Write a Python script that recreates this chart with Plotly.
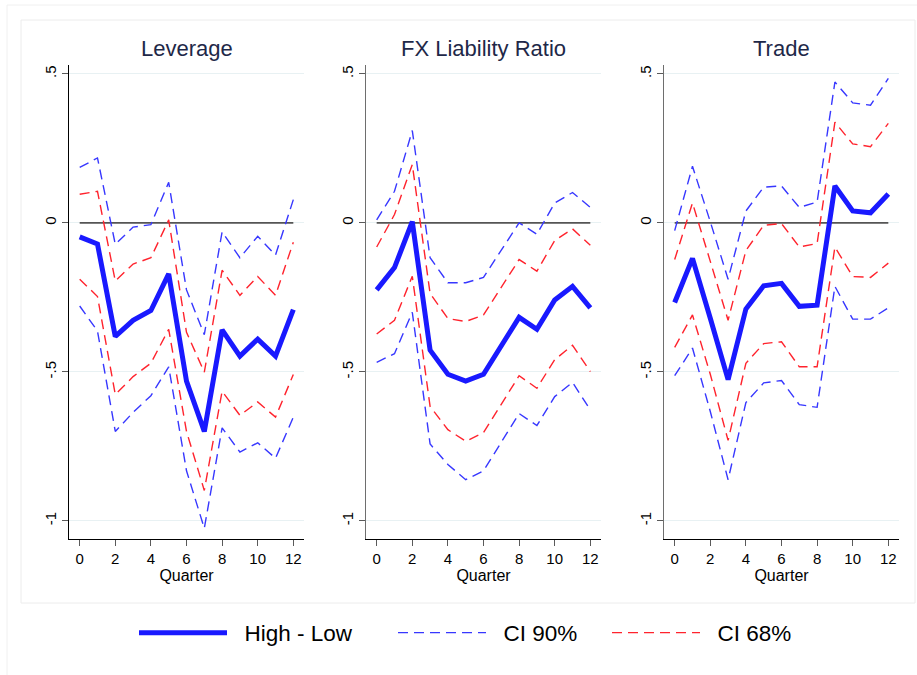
import plotly.graph_objects as go

# Horizon (quarters after the shock)
quarters = list(range(13))

panel_titles = ["Leverage", "FX Liability Ratio", "Trade"]

# ---- Leverage ----
lev_est = [-0.047, -0.071, -0.381, -0.327, -0.294, -0.171, -0.531, -0.700, -0.359, -0.447, -0.390, -0.447, -0.291]
lev_hi90 = [0.186, 0.218, -0.072, -0.014, -0.006, 0.136, -0.225, -0.375, -0.030, -0.117, -0.045, -0.108, 0.078]
lev_lo90 = [-0.279, -0.363, -0.700, -0.636, -0.580, -0.483, -0.832, -1.025, -0.688, -0.769, -0.738, -0.790, -0.652]
lev_hi68 = [0.096, 0.106, -0.195, -0.138, -0.117, 0.010, -0.367, -0.501, -0.159, -0.243, -0.180, -0.243, -0.065]
lev_lo68 = [-0.189, -0.247, -0.576, -0.516, -0.471, -0.357, -0.700, -0.898, -0.565, -0.646, -0.601, -0.652, -0.509]

# ---- FX Liability Ratio ----
fx_est = [-0.225, -0.150, 0.004, -0.427, -0.508, -0.531, -0.508, -0.415, -0.317, -0.357, -0.259, -0.213, -0.285]
fx_hi90 = [0.010, 0.106, 0.310, -0.117, -0.201, -0.201, -0.183, -0.093, 0.000, -0.038, 0.067, 0.102, 0.052]
fx_lo90 = [-0.468, -0.439, -0.300, -0.742, -0.811, -0.862, -0.832, -0.736, -0.640, -0.680, -0.583, -0.535, -0.628]
fx_hi68 = [-0.081, 0.028, 0.196, -0.237, -0.321, -0.331, -0.309, -0.215, -0.123, -0.162, -0.059, -0.020, -0.075]
fx_lo68 = [-0.373, -0.327, -0.179, -0.616, -0.694, -0.733, -0.704, -0.610, -0.513, -0.555, -0.459, -0.411, -0.499]

# ---- Trade ----
tr_est = [-0.267, -0.119, -0.320, -0.526, -0.289, -0.211, -0.203, -0.280, -0.276, 0.124, 0.040, 0.034, 0.097]
tr_hi90 = [-0.026, 0.190, 0.004, -0.189, 0.040, 0.120, 0.124, 0.052, 0.070, 0.473, 0.403, 0.395, 0.485]
tr_lo90 = [-0.513, -0.420, -0.633, -0.862, -0.603, -0.537, -0.529, -0.610, -0.619, -0.213, -0.323, -0.323, -0.285]
tr_hi68 = [-0.123, 0.067, -0.129, -0.327, -0.093, -0.008, -0.002, -0.081, -0.069, 0.338, 0.265, 0.256, 0.334]
tr_lo68 = [-0.418, -0.309, -0.508, -0.730, -0.471, -0.405, -0.399, -0.483, -0.483, -0.081, -0.180, -0.183, -0.135]

panels = [
    (lev_est, lev_hi90, lev_lo90, lev_hi68, lev_lo68),
    (fx_est, fx_hi90, fx_lo90, fx_hi68, fx_lo68),
    (tr_est, tr_hi90, tr_lo90, tr_hi68, tr_lo68),
]

series_names = ["High - Low", "CI 90%", "CI 68%"]

y_tickvals = [-1, -0.5, 0, 0.5]
y_ticktext = ["-1", "-.5", "0", ".5"]
x_tickvals = [0, 2, 4, 6, 8, 10, 12]

W, H = 917, 675
FONT = "Liberation Sans, Arial, Helvetica, sans-serif"

MAIN_BLUE = "rgb(25,25,255)"
CI90_BLUE = "rgb(55,55,255)"
CI68_RED = "rgb(255,35,45)"
DASH = "10px,6px"
GAP = "\u00a0\u00a0"  # spacing between legend key and its label

# panel extents in pixels (left, right); shared vertical extent
panel_px = [(69, 304), (366, 601), (664, 899)]
top_px, bottom_px = 65, 539
# left edge (px) of each legend key
legend_left_px = [140, 399, 613]

fig = go.Figure()

for i, (est, hi90, lo90, hi68, lo68) in enumerate(panels):
    n = "" if i == 0 else str(i + 1)
    xa, ya = "x" + n, "y" + n
    first = i == 0

    # reference line at zero
    fig.add_trace(go.Scatter(
        x=quarters, y=[0] * len(quarters), xaxis=xa, yaxis=ya, mode="lines",
        line=dict(color="rgb(85,85,85)", width=1.6), showlegend=False, hoverinfo="skip"))

    for k, series in enumerate([hi90, lo90]):
        fig.add_trace(go.Scatter(
            x=quarters, y=series, xaxis=xa, yaxis=ya, mode="lines", name=GAP + series_names[1],
            legend="legend2", legendgroup="ci90", showlegend=first and k == 0,
            line=dict(color=CI90_BLUE, width=1.4, dash=DASH)))
    for k, series in enumerate([hi68, lo68]):
        fig.add_trace(go.Scatter(
            x=quarters, y=series, xaxis=xa, yaxis=ya, mode="lines", name=GAP + series_names[2],
            legend="legend3", legendgroup="ci68", showlegend=first and k == 0,
            line=dict(color=CI68_RED, width=1.4, dash=DASH)))
    fig.add_trace(go.Scatter(
        x=quarters, y=est, xaxis=xa, yaxis=ya, mode="lines", name=GAP + series_names[0],
        legend="legend", legendgroup="est", showlegend=first,
        line=dict(color=MAIN_BLUE, width=5)))


def legend_box(left_px):
    return dict(
        orientation="h", x=(left_px - 6) / W, xanchor="left", y=1 - 633 / H, yanchor="middle",
        font=dict(size=22.5, family=FONT, color="black"),
        itemwidth=88, bgcolor="rgba(0,0,0,0)", borderwidth=0,
    )


layout = dict(
    width=W, height=H, autosize=False,
    margin=dict(l=0, r=0, t=0, b=0),
    paper_bgcolor="white", plot_bgcolor="white",
    font=dict(family=FONT, color="black"),
    legend=legend_box(legend_left_px[0]),
    legend2=legend_box(legend_left_px[1]),
    legend3=legend_box(legend_left_px[2]),
    annotations=[],
    shapes=[
        # light outer frames around the graph region
        dict(type="rect", xref="paper", yref="paper", x0=7 / W, x1=1.01, y0=-0.01, y1=1 - 5 / H,
             line=dict(color="rgb(240,240,240)", width=1), layer="below"),
        dict(type="rect", xref="paper", yref="paper", x0=21 / W, x1=915 / W, y0=1 - 603 / H, y1=1 - 20 / H,
             line=dict(color="rgb(236,236,236)", width=1), layer="below"),
    ],
)

for i, (l_px, r_px) in enumerate(panel_px):
    n = "" if i == 0 else str(i + 1)
    xdom = [l_px / W, r_px / W]
    ydom = [1 - bottom_px / H, 1 - top_px / H]
    yline = "black" if i == 0 else "rgb(110,110,110)"
    layout["xaxis" + n] = dict(
        domain=xdom, anchor="y" + n, range=[-0.6, 12.6],
        tickmode="array", tickvals=x_tickvals, ticks="outside", ticklen=6,
        tickcolor="rgb(90,90,90)", tickwidth=1,
        showline=True, linecolor="black", linewidth=1.2, showgrid=False, zeroline=False,
        tickfont=dict(size=15, family=FONT, color="black"),
        title=dict(text="Quarter", font=dict(size=16, family=FONT, color="black"), standoff=1),
    )
    layout["yaxis" + n] = dict(
        domain=ydom, anchor="x" + n, range=[-1.061, 0.53],
        tickmode="array", tickvals=y_tickvals, ticktext=y_ticktext, tickangle=-90,
        ticks="outside", ticklen=6, tickcolor="rgb(90,90,90)", tickwidth=1,
        showline=True, linecolor=yline, linewidth=1.4,
        showgrid=True, gridcolor="rgb(232,241,243)", gridwidth=1, zeroline=False,
        tickfont=dict(size=15, family=FONT, color="black"),
    )
    layout["annotations"].append(dict(
        text=panel_titles[i], xref="paper", yref="paper",
        x=(xdom[0] + xdom[1]) / 2, y=1 - 48 / H, xanchor="center", yanchor="middle",
        showarrow=False, font=dict(size=22, family=FONT, color="rgb(30,40,72)")))

fig.update_layout(**layout)
fig.write_html("out.html")
